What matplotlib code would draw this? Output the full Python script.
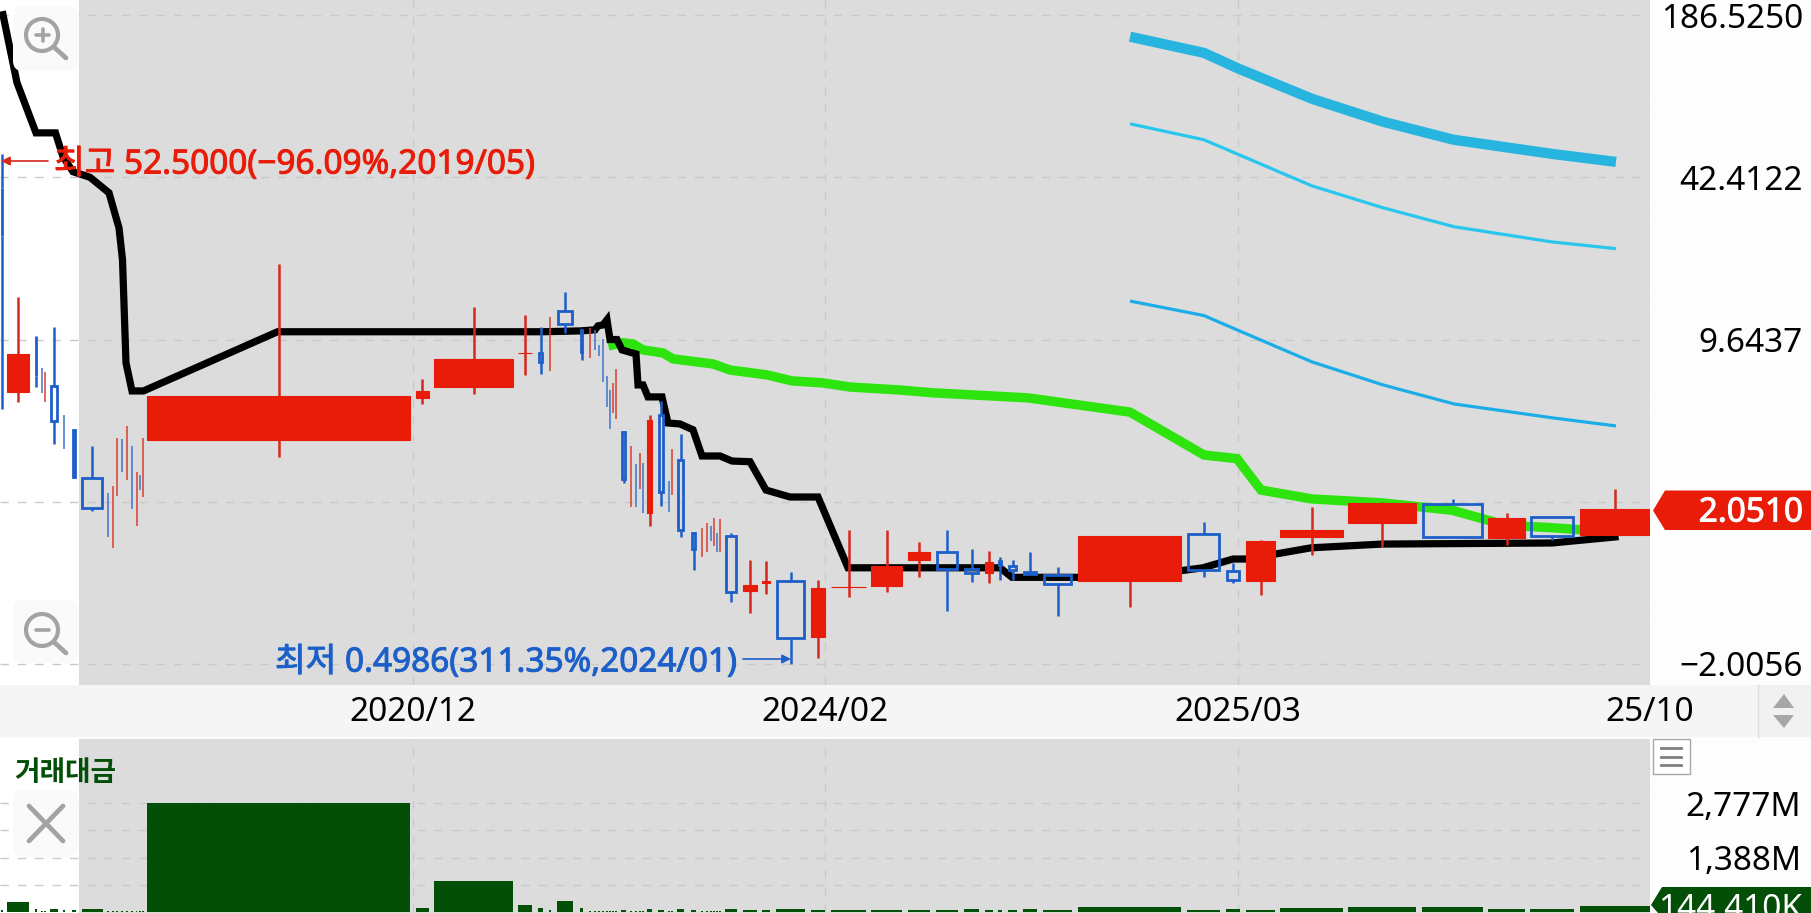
import matplotlib
matplotlib.use("Agg")
import matplotlib.pyplot as plt
import matplotlib.patheffects as pe
from matplotlib.patches import Circle, FancyBboxPatch, Polygon, Rectangle
from matplotlib.ticker import NullLocator

plt.rcParams["font.family"] = ["Noto Sans", "Noto Sans CJK KR", "DejaVu Sans"]

# candles, x is the chart's own turnover-weighted axis
candle_x = [2, 18, 36, 42, 45, 54, 64, 74, 92, 108,
            113, 117, 122, 127, 132, 136.6, 140, 143, 278.5, 422,
            473.5, 525, 540.5, 550, 565, 581.5, 590, 595, 599, 603,
            607, 610, 613, 616, 623.5, 631, 636, 640, 643, 649.5,
            661, 669, 672, 680.5, 693.5, 702, 707, 711, 714, 717,
            720, 731, 750, 766, 790.5, 818, 848.5, 886.5, 919, 947,
            971.5, 989, 1000, 1012.5, 1030, 1057.5, 1129.5, 1203.5, 1233, 1260.5,
            1311.5, 1382, 1452.5, 1506.5, 1552, 1615]
candle_w = [2, 22.5, 2.5, 0, 0, 7.5, 0, 4.5, 21, 0,
            0, 0, 0, 0, 0, 0, 0, 0, 263, 13,
            79, 14, 5.5, 0, 16, 3.5, 0, 0, 0, 0,
            0, 0, 0, 0, 5.5, 0, 0, 0, 0, 5,
            6, 0, 0, 7, 5, 0, 0, 0, 0, 0,
            0, 12, 14, 8, 29, 14, 35, 31, 22, 22,
            15, 8, 4, 9, 14, 29, 103, 33, 14, 29,
            63, 67.5, 61, 37, 44, 70.5]
opens = [38.5, 5.97, 9.92, 7.44, 5.45, 6.31, 4.84, 4.23, 2.73, 2.38,
         1.44, 2.31, 3.89, 2.68, 3.65, 1.75, 2.80, 2.29, 3.85, 5.66,
         6.25, 8.53, 8.53, 7.24, 12.52, 10.53, 8.15, 10.53, 9.18, 9.69,
         6.91, 6.08, 4.93, 4.67, 4.16, 2.09, 3.10, 2.46, 3.12, 1.98,
         4.84, 2.65, 2.33, 3.20, 1.65, 1.32, 1.39, 1.75, 1.47, 1.65,
         1.38, 1.60, 0.972, 1.045, 1.063, 0.640, 1.008, 1.017, 1.29, 1.38,
         1.19, 1.145, 1.28, 1.22, 1.155, 1.124, 1.063, 1.634, 1.17, 1.063,
         1.59, 1.81, 2.15, 1.57, 1.91, 1.62]
highs = [52.5, 14.22, 9.92, 7.44, 7.17, 10.82, 4.84, 4.23, 3.65, 2.38,
         2.53, 3.92, 3.89, 4.38, 3.65, 2.88, 2.80, 3.92, 19.2, 6.73,
         12.98, 12.07, 10.82, 11.85, 14.9, 10.53, 10.72, 10.53, 9.18, 9.69,
         6.91, 6.08, 6.49, 7.37, 4.19, 3.65, 3.10, 3.42, 3.12, 4.84,
         5.50, 2.65, 3.55, 4.07, 1.67, 1.73, 1.81, 1.75, 1.89, 1.65,
         1.87, 1.65, 1.29, 1.28, 1.155, 1.073, 1.70, 1.70, 1.52, 1.69,
         1.43, 1.40, 1.33, 1.29, 1.38, 1.21, 1.60, 1.82, 1.255, 1.54,
         2.09, 2.19, 2.25, 1.98, 1.91, 2.46]
lows = [5.11, 5.45, 6.25, 5.92, 5.45, 3.72, 3.55, 2.73, 2.01, 1.59,
        1.44, 2.31, 2.88, 2.68, 2.05, 1.75, 2.44, 2.29, 3.29, 5.355,
        5.87, 6.98, 7.04, 7.24, 10.24, 8.0, 8.15, 8.77, 8.30, 6.55,
        5.21, 4.27, 4.93, 4.67, 2.60, 2.09, 2.09, 2.46, 1.98, 1.75,
        2.11, 1.99, 2.33, 1.59, 1.18, 1.32, 1.39, 1.53, 1.47, 1.39,
        1.38, 0.878, 0.795, 0.945, 0.4986, 0.525, 0.919, 0.964, 1.10, 0.808,
        1.054, 1.045, 1.073, 1.073, 1.134, 0.772, 0.84, 1.10, 1.045, 0.936,
        1.35, 1.45, 1.59, 1.48, 1.54, 1.62]
closes = [24.8, 8.45, 6.91, 5.92, 7.17, 4.59, 3.55, 2.75, 2.07, 1.59,
          2.53, 3.92, 2.88, 4.38, 2.05, 2.88, 2.44, 3.92, 5.76, 6.03,
          8.07, 8.55, 7.86, 11.85, 11.12, 8.6, 10.72, 8.77, 8.30, 6.55,
          5.21, 4.27, 6.49, 7.37, 2.70, 3.65, 2.09, 3.42, 1.98, 4.63,
          2.40, 1.99, 3.55, 1.69, 1.43, 1.73, 1.81, 1.53, 1.89, 1.39,
          1.87, 0.964, 1.026, 1.063, 0.634, 0.999, 1.01, 1.22, 1.39, 1.19,
          1.145, 1.27, 1.23, 1.18, 1.134, 1.035, 1.60, 1.18, 1.073, 1.53,
          1.69, 2.17, 1.59, 1.89, 1.60, 2.051]
turnover = [60, 255, 70, 25, 25, 75, 40, 60, 75, 30,
            30, 30, 30, 30, 30, 30, 30, 30, 2777, 100,
            790, 180, 100, 60, 275, 100, 30, 30, 30, 30,
            30, 30, 30, 30, 45, 30, 30, 30, 30, 70,
            45, 30, 30, 75, 50, 30, 30, 30, 30, 30,
            30, 75, 50, 50, 75, 50, 55, 60, 50, 45,
            70, 50, 40, 50, 70, 50, 120, 60, 70, 55,
            110, 115, 115, 70, 85, 144.41]

black_x = [3, 17, 36, 55.5, 63, 73, 90, 109, 119, 122.5,
           126, 132, 143.5, 277.5, 541.5, 580, 595, 598, 603, 607,
           610, 617, 622, 636, 638, 643, 648, 662, 668, 680,
           693, 702, 720, 732, 750, 766, 790, 818, 848, 1000,
           1012, 1130, 1203, 1233, 1247, 1311, 1382, 1552, 1615]
black_v = [187, 100.5, 63.6, 63.6, 51.1, 44.6, 42.4, 36.8, 26.7, 19.96,
           7.79, 6.03, 6.03, 10.35, 10.35, 10.43, 10.53, 10.92, 11.02, 11.55,
           9.64, 9.64, 8.77, 8.45, 6.37, 6.37, 5.71, 5.71, 4.50, 4.46,
           4.23, 3.33, 3.33, 3.18, 3.16, 2.44, 2.29, 2.29, 1.20, 1.20,
           1.10, 1.10, 1.20, 1.30, 1.30, 1.44, 1.49, 1.505, 1.59]
green_x = [613, 623, 633, 643, 663, 673, 713, 730, 767, 792,
           823, 850, 900, 935, 1028, 1130, 1204, 1237, 1261, 1312,
           1382, 1452, 1480, 1506, 1552, 1579, 1615]
green_v = [9.18, 9.36, 9.26, 8.77, 8.53, 8.08, 7.715, 7.3, 6.98, 6.61,
           6.49, 6.25, 6.08, 5.92, 5.66, 4.97, 3.36, 3.25, 2.44, 2.25,
           2.17, 2.03, 1.89, 1.77, 1.73, 1.70, 1.70]
band_x = [1130, 1204, 1237, 1312, 1383, 1454, 1552, 1616]
band_top = [153, 132, 115, 86.8, 70.4, 59.7, 52.5, 48.8]
band_mid = [69.1, 59.7, 52.5, 39.2, 32.1, 27.0, 23.5, 22.1]
band_low = [13.7, 12.0, 10.53, 7.86, 6.37, 5.355, 4.72, 4.38]

price_ticks = [186.525, 42.4122, 9.6437, 2.1928, 0.4986]
price_labels = ["186.5250", "42.4122", "9.6437", "", "\u22122.0056"]
date_ticks = [412.5, 825, 1237.5, 1650]
date_labels = ["2020/12", "2024/02", "2025/03", "25/10"]
turnover_ticks = [694, 1388.5, 2083, 2777]
turnover_labels = ["", "1,388M", "", "2,777M"]

W, H = 1811, 913
RED = "#e81c09"
RED_WICK = "#d6281b"
BLUE = "#1d5fc9"
DARK_GREEN = "#034f08"
GRAY = "#dcdcdc"
GRID = "#c9c9c9"
TEXT_PT = 24

fig = plt.figure(figsize=(W / 100, H / 100), dpi=100, facecolor="#fdfdfd")


def px_axes(x0, y0, x1, y1):
    return fig.add_axes([x0 / W, 1 - y1 / H, (x1 - x0) / W, (y1 - y0) / H])


def heavier(color):
    return [pe.withStroke(linewidth=0.7, foreground=color)]


back = px_axes(0, 0, W, H)
back.set_xlim(0, W)
back.set_ylim(H, 0)
back.axis("off")
back.set_zorder(0)
back.add_patch(Rectangle((0, 685), 1758, 52, color="#f5f5f5", lw=0))
back.add_patch(Rectangle((1758, 685), W - 1758, 52, color="#f1f1f1", lw=0))
back.plot([1758, 1758], [685, 737], color="#dddddd", lw=1)

ax = px_axes(0, 0, 1650, 685)
low = px_axes(0, 739, 1650, 913)
for a in (ax, low):
    a.set_zorder(1)
    a.set_facecolor(GRAY)
    a.axvspan(0, 78.5, color="white", lw=0, zorder=0)
    a.set_axisbelow(True)
    a.grid(True, color=GRID, lw=1, ls=(0, (6, 6.5)))
    a.set_xlim(0, 1650)
    a.set_xticks(date_ticks)
    a.tick_params(length=0)
    a.yaxis.tick_right()
    for s in a.spines.values():
        s.set_visible(False)

# log price scale, same ratio between every grid line
ratio = price_ticks[0] / price_ticks[1]
grid_px = 162.25
ax.set_yscale("log")
ax.set_ylim(price_ticks[-1] / ratio ** (21 / grid_px), price_ticks[0] * ratio ** (15 / grid_px))
ax.set_yticks(price_ticks)
ax.set_yticklabels(price_labels, fontsize=TEXT_PT, ha="right")
ax.yaxis.set_minor_locator(NullLocator())
ax.tick_params(axis="y", pad=(1803 - 1650) * 0.72)
ax.set_xticklabels(date_labels, fontsize=TEXT_PT)
ax.tick_params(axis="x", pad=8)

ax.plot(green_x, green_v, color="#2de40f", lw=6.8, solid_joinstyle="miter", zorder=3)
ax.plot(black_x, black_v, color="black", lw=5.2, solid_joinstyle="miter", zorder=3)
ax.plot(band_x, band_top, color="#27b5e0", lw=7.4, solid_capstyle="butt", zorder=3)
ax.plot(band_x, band_mid, color="#29c6ee", lw=2.3, solid_capstyle="butt", zorder=3)
ax.plot(band_x, band_low, color="#1cade8", lw=2.3, solid_capstyle="butt", zorder=3)

for x, w, o, h, l, c in zip(candle_x, candle_w, opens, highs, lows, closes):
    up = c >= o
    if w == 0:
        ax.vlines(x, l, h, color="#d8402f" if up else "#3f73cc", lw=1.1, zorder=4)
        continue
    top, bottom = max(o, c), min(o, c)
    wick = RED_WICK if up else BLUE
    ax.vlines(x, top, h, color=wick, lw=1.8, zorder=4)
    ax.vlines(x, l, bottom, color=wick, lw=1.8, zorder=4)
    if up:
        ax.bar(x, top - bottom, w, bottom=bottom, color=RED, edgecolor=RED, lw=0.8, zorder=5)
    else:
        ax.bar(x, top - bottom, w - 1.6, bottom=bottom, facecolor="none", edgecolor=BLUE, lw=2, zorder=5)

scale = 2777 / 109
low.set_ylim(-1 * scale, 173 * scale)
low.set_yticks(turnover_ticks)
low.set_yticklabels(turnover_labels, fontsize=TEXT_PT, ha="right")
low.tick_params(axis="y", pad=(1801 - 1650) * 0.72)
low.tick_params(axis="x", labelbottom=False)
low.bar(candle_x, turnover, [max(w, 1.5) for w in candle_w], color=DARK_GREEN, lw=0, zorder=3)

ui = px_axes(0, 0, W, H)
ui.set_xlim(0, W)
ui.set_ylim(H, 0)
ui.axis("off")
ui.set_zorder(2)

# zoom / close buttons
for y0, y1 in [(6, 71), (600, 663), (790, 857)]:
    ui.add_patch(FancyBboxPatch((17, y0 + 4), 57, y1 - y0 - 8, boxstyle="round,pad=4,rounding_size=10",
                                fc="#fafafa", ec="none", zorder=2))
ICON = "#a3a3a3"
for cy, plus in [(35, True), (630, False)]:
    ui.add_patch(Circle((42, cy), 16, fill=False, ec=ICON, lw=3, zorder=3))
    ui.plot([55, 66], [cy + 13, cy + 23], color=ICON, lw=3.4, solid_capstyle="round", zorder=3)
    ui.plot([36, 49], [cy, cy], color=ICON, lw=2.6, solid_capstyle="round", zorder=3)
    if plus:
        ui.plot([42.5, 42.5], [cy - 6, cy + 6], color=ICON, lw=2.6, solid_capstyle="round", zorder=3)
ui.plot([29, 63], [806, 841], color=ICON, lw=3.4, solid_capstyle="round", zorder=3)
ui.plot([63, 29], [806, 841], color=ICON, lw=3.4, solid_capstyle="round", zorder=3)

ui.text(54, 165, "최고 52.5000(\u221296.09%,2019/05)", color=RED, fontsize=TEXT_PT,
        va="center", ha="left", zorder=6, path_effects=heavier(RED))
ui.annotate("", xy=(1, 161), xytext=(48, 161),
            arrowprops=dict(arrowstyle="-|>", color="#d6281b", lw=1.2, mutation_scale=13, shrinkA=0, shrinkB=0))
ui.text(275, 663, "최저 0.4986(311.35%,2024/01)", color=BLUE, fontsize=TEXT_PT,
        va="center", ha="left", zorder=6, path_effects=heavier(BLUE))
ui.annotate("", xy=(791, 659), xytext=(743, 659),
            arrowprops=dict(arrowstyle="-|>", color=BLUE, lw=1.2, mutation_scale=13, shrinkA=0, shrinkB=0))
ui.text(14, 774, "거래대금", color=DARK_GREEN, fontsize=20, weight="bold", va="center", ha="left", zorder=6)

ui.add_patch(Polygon([(1653, 510.5), (1665, 490.5), (W, 490.5), (W, 530), (1665, 530)], color=RED, lw=0, zorder=4))
ui.text(1803, 513, "2.0510", color="white", fontsize=TEXT_PT, va="center", ha="right", zorder=5,
        path_effects=heavier("white"))
ui.add_patch(Polygon([(1651, 905), (1662, 887), (W, 887), (W, H), (1658, H)], color=DARK_GREEN, lw=0, zorder=4))
ui.text(1802, 909, "144,410K", color="white", fontsize=TEXT_PT, va="center", ha="right", zorder=5, clip_on=True)

# scroll arrows and menu button
ui.add_patch(Polygon([(1784, 694), (1794, 708), (1773, 708)], color="#a6a6a6", lw=0))
ui.add_patch(Polygon([(1773, 715), (1794, 715), (1784, 728)], color="#a6a6a6", lw=0))
ui.add_patch(Rectangle((1653, 739), 37, 35, fc="white", ec="#a8a8a8", lw=1))
for y in (748, 757, 765):
    ui.plot([1661, 1681], [y, y], color="#808080", lw=2)

fig.savefig("out.png", dpi=100, facecolor=fig.get_facecolor())
